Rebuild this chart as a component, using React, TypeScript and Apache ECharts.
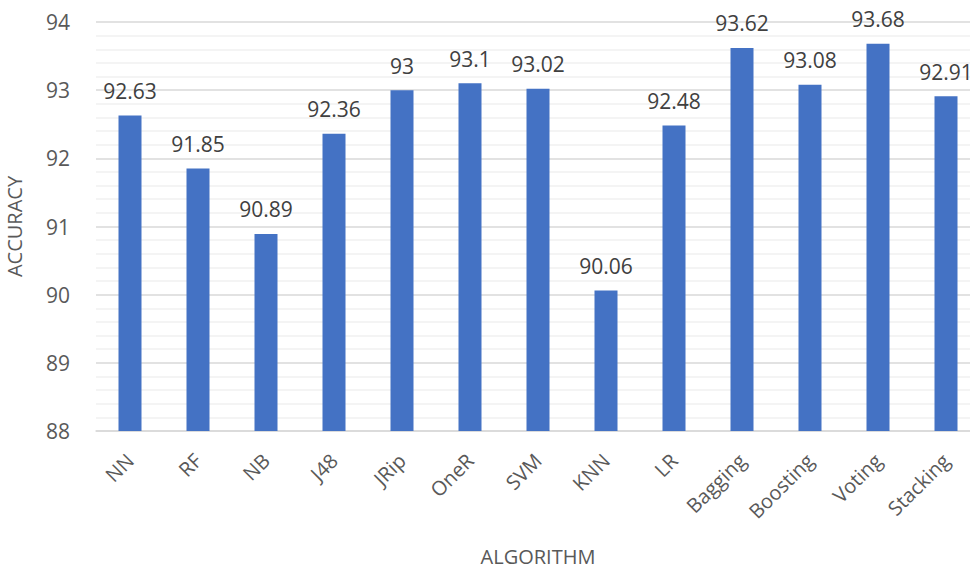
import React, { useEffect, useRef } from "react";
import * as echarts from "echarts";

const categories = ["NN", "RF", "NB", "J48", "JRip", "OneR", "SVM", "KNN", "LR", "Bagging", "Boosting", "Voting", "Stacking"];
const accuracy = [92.63, 91.85, 90.89, 92.36, 93, 93.1, 93.02, 90.06, 92.48, 93.62, 93.08, 93.68, 92.91];
const yMin = 88;
const yMax = 94;

export default function App() {
  const ref = useRef<HTMLDivElement>(null);
  useEffect(() => {
    if (!ref.current) return;
    const chart = echarts.init(ref.current, null, { renderer: "svg" });
    const font = "'Open Sans', 'Noto Sans', sans-serif";
    chart.setOption({
      animation: false,
      grid: { left: 96, top: 22, width: 884, height: 409, containLabel: false, outerBoundsMode: "none" },
      xAxis: {
        type: "category",
        data: categories,
        name: "ALGORITHM",
        nameLocation: "middle",
        nameGap: 115,
        nameTextStyle: { fontSize: 20, color: "#595959", fontFamily: font, lineHeight: 20 },
        axisLine: { show: true, lineStyle: { color: "#d9d9d9", width: 1.5 } },
        axisTick: { show: false },
        axisLabel: { rotate: 45, fontSize: 20, color: "#595959", fontFamily: font, margin: 26, interval: 0 },
      },
      yAxis: {
        type: "value",
        min: yMin,
        max: yMax,
        interval: 1,
        name: "ACCURACY",
        nameLocation: "middle",
        nameGap: 72,
        nameTextStyle: { fontSize: 20, color: "#595959", fontFamily: font },
        axisLine: { show: false },
        axisTick: { show: false },
        axisLabel: { fontSize: 21, color: "#595959", fontFamily: font, margin: 26 },
        splitLine: { show: true, lineStyle: { color: "#d9d9d9", width: 1.5 } },
        minorTick: { show: false, splitNumber: 5 },
        minorSplitLine: { show: true, lineStyle: { color: "#f0f0f0", width: 1.5 } },
      },
      series: [
        {
          type: "bar",
          data: accuracy,
          barWidth: 23,
          itemStyle: { color: "#4472C4" },
          label: {
            show: true,
            position: "top",
            distance: 14,
            fontSize: 21,
            color: "#404040",
            fontFamily: font,
          },
        },
      ],
    });
    return () => chart.dispose();
  }, []);
  return <div ref={ref} style={{ position: "fixed", left: 0, top: 0, width: 970, height: 571, background: "#fff" }} />;
}
